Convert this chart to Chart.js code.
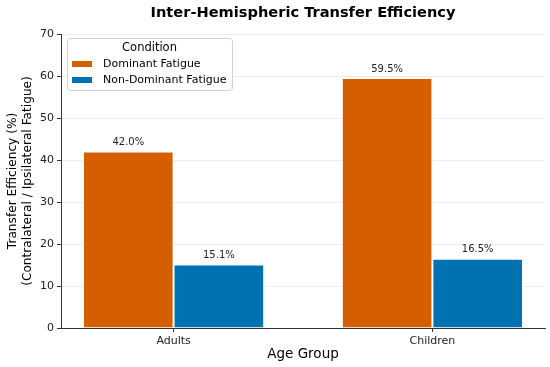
<!DOCTYPE html>
<html>
<head>
<meta charset="utf-8">
<script src="https://cdn.jsdelivr.net/npm/chart.js@4.4.1/dist/chart.umd.min.js"></script>
<style>
  html, body { margin: 0; padding: 0; background: #fff; }
  #wrap { width: 550px; height: 367px; }
</style>
</head>
<body>
<div id="wrap"><canvas id="grafica" width="550" height="367"></canvas></div>
<script>
// Datos
const grupos = ['Adults', 'Children'];
const dominante = [42.0, 59.5];
const noDominante = [15.1, 16.5];
const etiquetasSerie = ['Dominant Fatigue', 'Non-Dominant Fatigue'];
const coloresSerie = ['#d55e00', '#0072b2'];
const ticksY = [0, 10, 20, 30, 40, 50, 60, 70];

const fuente = '"DejaVu Sans", sans-serif';

// Etiquetas de valor encima de cada barra
const etiquetasBarras = {
    id: 'etiquetasBarras',
    afterDatasetsDraw(chart) {
        const ctx = chart.ctx;
        ctx.save();
        ctx.font = '10px ' + fuente;
        ctx.fillStyle = '#222';
        ctx.textAlign = 'center';
        ctx.textBaseline = 'bottom';
        chart.data.datasets.forEach((ds, i) => {
            chart.getDatasetMeta(i).data.forEach((bar, j) => {
                ctx.fillText(ds.data[j].y.toFixed(1) + '%', bar.x, bar.y - 4);
            });
        });
        ctx.restore();
    }
};

// Titulos y leyenda dibujados a mano
const textos = {
    id: 'textos',
    afterDraw(chart) {
        const ctx = chart.ctx;
        const area = chart.chartArea;
        ctx.save();
        ctx.fillStyle = '#000';
        ctx.textAlign = 'center';
        ctx.textBaseline = 'middle';
        ctx.font = 'bold 14.6px ' + fuente;
        ctx.fillText('Inter-Hemispheric Transfer Efficiency', (area.left + area.right) / 2, 13);

        ctx.font = '13.5px ' + fuente;
        ctx.fillText('Age Group', (area.left + area.right) / 2, 354);

        ctx.save();
        ctx.translate(13, (area.top + area.bottom) / 2);
        ctx.rotate(-Math.PI / 2);
        ctx.font = '12.2px ' + fuente;
        ctx.fillText('Transfer Efficiency (%)', 0, 0);
        ctx.fillText('(Contralateral / Ipsilateral Fatigue)', 0, 15);
        ctx.restore();

        // Leyenda
        const lx = 67, ly = 38, lw = 165, lh = 52;
        ctx.fillStyle = 'rgba(255,255,255,0.8)';
        ctx.strokeStyle = '#d0d0d0';
        ctx.lineWidth = 1;
        ctx.beginPath();
        ctx.roundRect(lx + 0.5, ly + 0.5, lw, lh, 3);
        ctx.fill();
        ctx.stroke();

        ctx.fillStyle = '#000';
        ctx.font = '11.5px ' + fuente;
        ctx.fillText('Condition', lx + lw / 2, ly + 10);

        ctx.textAlign = 'left';
        ctx.font = '11px ' + fuente;
        chart.data.datasets.forEach((ds, i) => {
            const y = ly + 26 + i * 16;
            ctx.fillStyle = ds.backgroundColor;
            ctx.fillRect(lx + 5, y - 3, 20, 6);
            ctx.fillStyle = '#000';
            ctx.fillText(ds.label, lx + 36, y);
        });
        ctx.restore();
    }
};

const aPuntos = (valores) => valores.map((v, i) => ({ x: i, y: v }));

new Chart(document.getElementById('grafica'), {
    type: 'bar',
    data: {
        datasets: [
            {
                label: etiquetasSerie[0],
                data: aPuntos(dominante),
                backgroundColor: coloresSerie[0],
                borderColor: '#fff',
                borderWidth: 1,
                categoryPercentage: 0.7,
                barPercentage: 1.0
            },
            {
                label: etiquetasSerie[1],
                data: aPuntos(noDominante),
                backgroundColor: coloresSerie[1],
                borderColor: '#fff',
                borderWidth: 1,
                categoryPercentage: 0.7,
                barPercentage: 1.0
            }
        ]
    },
    options: {
        responsive: false,
        animation: false,
        layout: { padding: { top: 34, right: 5, left: 0, bottom: 0 } },
        plugins: {
            legend: { display: false },
            title: { display: false },
            tooltip: { enabled: false }
        },
        scales: {
            x: {
                type: 'linear',
                offset: false,
                min: -0.435,
                max: 1.435,
                afterBuildTicks: (scale) => {
                    scale.ticks = grupos.map((g, i) => ({ value: i }));
                },
                afterFit: (scale) => { scale.height = 39; },
                ticks: {
                    callback: (value) => grupos[value] ?? '',
                    font: { family: fuente, size: 11 },
                    color: '#222',
                    padding: 3
                },
                grid: {
                    offset: false,
                    drawOnChartArea: false,
                    tickLength: 4,
                    tickColor: '#333'
                },
                border: { display: true, color: '#333', width: 1 }
            },
            y: {
                min: 0,
                max: 70,
                afterBuildTicks: (scale) => {
                    scale.ticks = ticksY.map((v) => ({ value: v }));
                },
                afterFit: (scale) => { scale.width = 61; },
                ticks: {
                    font: { family: fuente, size: 11 },
                    color: '#222',
                    padding: 3
                },
                grid: {
                    color: 'rgba(0,0,0,0.07)',
                    tickLength: 4,
                    tickColor: '#333'
                },
                border: { display: true, color: '#333', width: 1 }
            }
        }
    },
    plugins: [etiquetasBarras, textos]
});
</script>
</body>
</html>
